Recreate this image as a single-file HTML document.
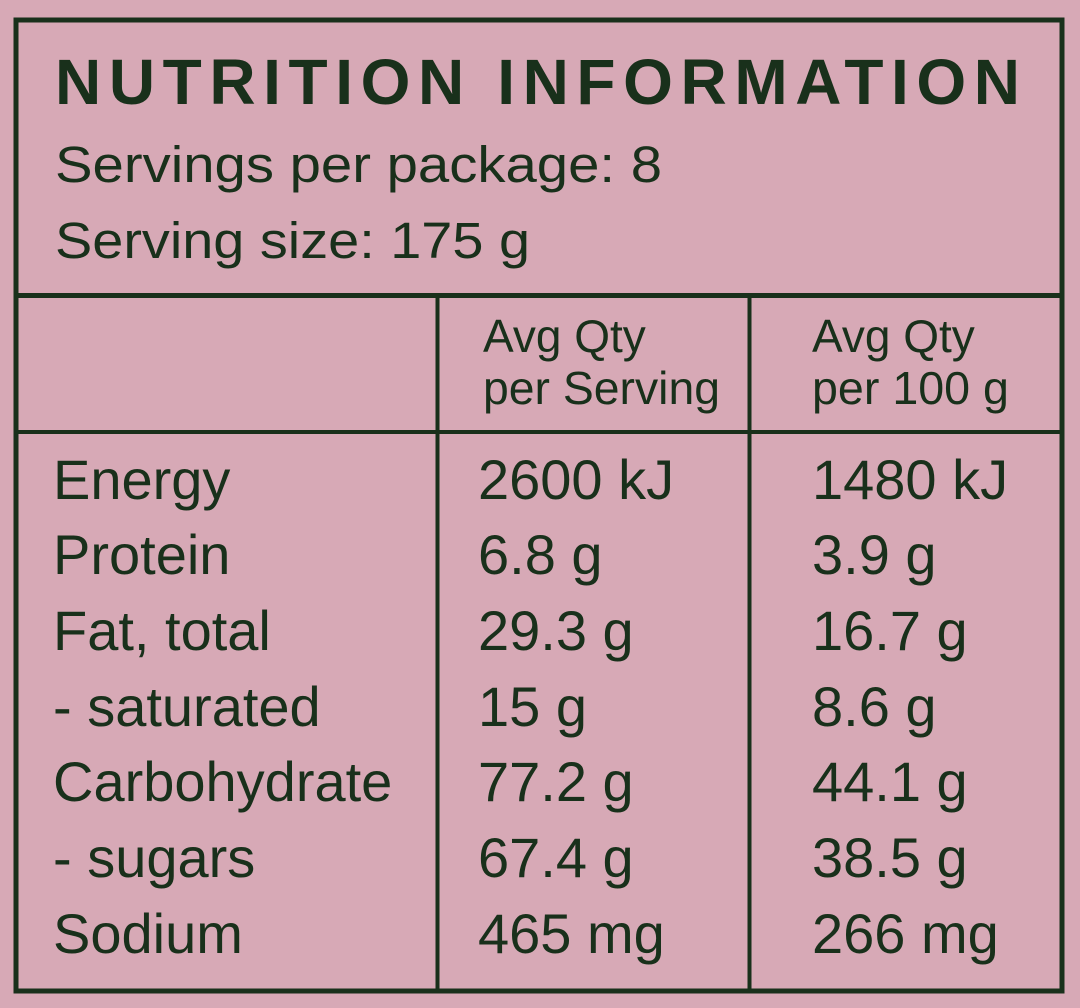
<!DOCTYPE html>
<html><head><style>
html,body{margin:0;padding:0;background:#d7a9b6;}
svg{display:block}
text{font-family:"Liberation Sans",sans-serif;fill:#19301b;}
</style></head><body>
<svg width="1080" height="1008" viewBox="0 0 1080 1008">
<rect width="1080" height="1008" fill="#d7a9b6"/>
<g stroke="#19301b" fill="none">
<rect x="16" y="20" width="1046" height="971" stroke-width="5"/>
<line x1="16" y1="295.5" x2="1062" y2="295.5" stroke-width="5"/>
<line x1="16" y1="432" x2="1062" y2="432" stroke-width="4"/>
<line x1="437.5" y1="295" x2="437.5" y2="991" stroke-width="4"/>
<line x1="749.5" y1="295" x2="749.5" y2="991" stroke-width="4"/>
</g>
<text x="55" y="104" font-size="64" font-weight="bold" textLength="965" lengthAdjust="spacing">NUTRITION INFORMATION</text>
<text x="55" y="182" font-size="51" textLength="607" lengthAdjust="spacingAndGlyphs">Servings per package: 8</text>
<text x="55" y="258" font-size="51" textLength="475" lengthAdjust="spacingAndGlyphs">Serving size: 175 g</text>
<g font-size="46">
<text x="483" y="352">Avg Qty</text>
<text x="483" y="404" textLength="237" lengthAdjust="spacingAndGlyphs">per Serving</text>
<text x="812" y="352">Avg Qty</text>
<text x="812" y="404" textLength="197" lengthAdjust="spacingAndGlyphs">per 100 g</text>
</g>
<g font-size="56">
<text x="53" y="499">Energy</text>
<text x="53" y="574">Protein</text>
<text x="53" y="650">Fat, total</text>
<text x="53" y="726">- saturated</text>
<text x="53" y="801">Carbohydrate</text>
<text x="53" y="877">- sugars</text>
<text x="53" y="953">Sodium</text>
<text x="478" y="499">2600 kJ</text>
<text x="478" y="574">6.8 g</text>
<text x="478" y="650">29.3 g</text>
<text x="478" y="726">15 g</text>
<text x="478" y="801">77.2 g</text>
<text x="478" y="877">67.4 g</text>
<text x="478" y="953">465 mg</text>
<text x="812" y="499">1480 kJ</text>
<text x="812" y="574">3.9 g</text>
<text x="812" y="650">16.7 g</text>
<text x="812" y="726">8.6 g</text>
<text x="812" y="801">44.1 g</text>
<text x="812" y="877">38.5 g</text>
<text x="812" y="953">266 mg</text>
</g>
</svg>
</body></html>
